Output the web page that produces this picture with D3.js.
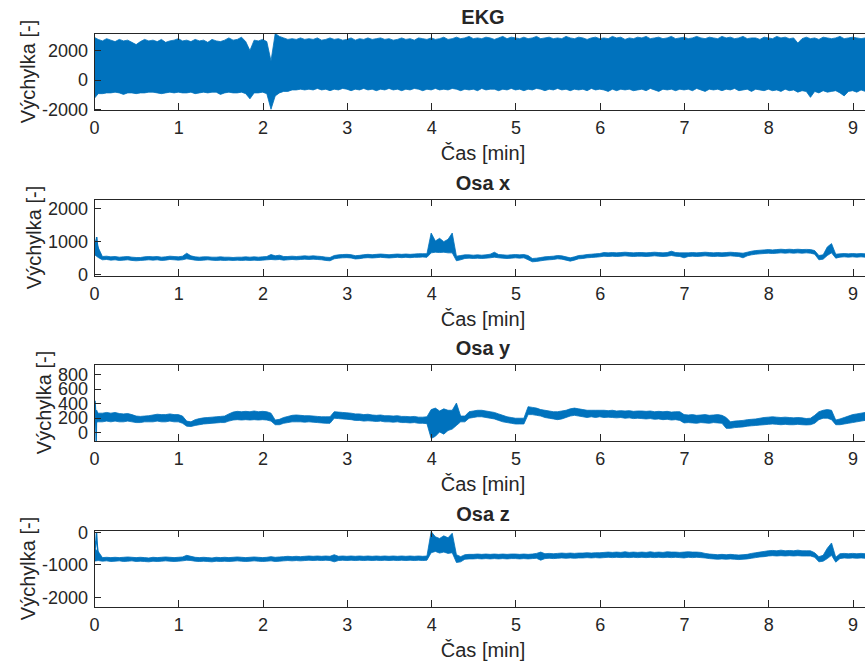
<!DOCTYPE html>
<html>
<head>
<meta charset="utf-8">
<script src="https://cdn.jsdelivr.net/npm/d3@7"></script>
<style>
  body { margin: 0; background: #fff; }
  text { font-family: "Liberation Sans", Arial, Helvetica, sans-serif; fill: #262626; }
</style>
</head>
<body>
<svg id="chart" width="865" height="663"></svg>
<script>
// samples every 0.05 min, 0 .. 9.25
const dt = 0.05;
const xTicks = [0, 1, 2, 3, 4, 5, 6, 7, 8, 9];

// EKG envelope (upper / lower edge of the dense trace)
const ekgHi = [
  2850,2700,2600,2750,2650,2550,2700,2600,2650,2500,
  2350,2550,2700,2600,2650,2550,2700,2500,2600,2650,
  2750,2600,2650,2550,2700,2600,2650,2500,2700,2600,
  2550,2650,2800,2650,2700,2850,2550,1950,2650,2600,
  2700,2550,1250,3100,2900,2800,2700,2750,2700,2800,
  2700,2750,2700,2800,2650,2700,2800,2700,2750,2650,
  2700,2800,2650,2750,2700,2800,2700,2750,2800,2700,
  2750,2650,2700,2800,2700,2750,2650,2800,2750,2700,
  2800,2700,2750,2850,2700,2750,2850,2750,2800,2900,
  2750,2800,2750,2850,2800,2700,2800,2900,2750,2850,
  2800,2750,2850,2750,2800,2900,2750,2800,2850,2750,
  2800,2750,2900,2800,2750,2850,2800,2700,2800,2850,
  2750,2800,2750,2900,2800,2850,2700,2800,2750,2850,
  2800,2900,2750,2800,2850,2750,2800,2900,2750,2800,
  2850,2750,2800,2900,2800,2750,2850,2800,2750,2900,
  2800,2850,2750,2800,2900,2750,2800,2800,2700,2850,
  2800,2750,2900,2800,2850,2750,2800,2450,2750,2850,
  2750,2800,2700,2850,2800,2750,2800,2900,2750,2800,
  2850,2800,2750,2800,2850,2800
];
const ekgLo = [
  -1300,-950,-950,-900,-900,-850,-900,-1000,-900,-900,
  -950,-900,-900,-850,-850,-900,-950,-900,-850,-900,
  -850,-900,-900,-850,-950,-900,-850,-900,-850,-850,
  -1000,-900,-850,-900,-900,-850,-950,-1300,-900,-900,
  -850,-950,-2000,-1100,-900,-800,-800,-700,-700,-650,
  -700,-650,-700,-600,-700,-650,-750,-650,-700,-600,
  -650,-750,-650,-700,-600,-700,-650,-750,-650,-700,
  -600,-700,-650,-750,-650,-700,-600,-650,-750,-650,
  -700,-600,-700,-650,-700,-600,-650,-750,-650,-700,
  -650,-750,-600,-700,-650,-650,-750,-650,-700,-600,
  -700,-650,-750,-650,-700,-600,-650,-750,-650,-700,
  -600,-700,-650,-750,-650,-700,-650,-750,-600,-700,
  -650,-700,-800,-650,-750,-650,-700,-650,-750,-700,
  -650,-750,-600,-700,-800,-650,-700,-650,-750,-650,
  -700,-650,-750,-600,-700,-800,-650,-700,-650,-750,
  -650,-700,-600,-750,-700,-650,-800,-650,-700,-750,
  -650,-750,-700,-800,-650,-750,-700,-850,-750,-800,
  -1200,-800,-900,-750,-850,-800,-750,-900,-1100,-800,
  -750,-850,-700,-800,-750,-700
];

// Osa x
const osaXHi = [
  1100,800,530,540,520,530,510,520,530,510,
  500,500,520,530,520,530,510,520,540,530,
  520,540,630,550,520,510,520,520,510,510,
  520,510,510,500,510,510,520,510,520,510,
  520,530,590,550,570,530,530,540,530,540,
  550,540,550,540,530,510,500,560,580,590,
  595,585,555,565,585,595,585,595,605,595,
  585,595,605,595,605,595,605,615,615,615,
  1240,1000,1080,980,1050,1240,540,560,580,580,
  570,580,570,580,600,660,590,580,570,580,
  590,580,590,560,470,480,500,520,530,540,
  560,550,520,490,520,560,570,590,600,610,
  620,650,640,650,640,650,660,650,640,650,
  650,640,650,660,650,640,650,690,650,640,
  640,640,650,640,650,660,650,640,650,640,
  650,660,650,640,630,660,690,710,720,730,
  740,730,740,750,740,750,740,750,740,745,
  740,710,560,580,820,920,600,610,620,610,
  620,610,620,610,620,620
];
const osaXLo = [
  600,500,430,440,420,430,410,420,430,410,
  400,410,420,430,420,430,410,420,440,430,
  420,430,460,440,420,410,420,430,420,410,
  420,410,420,410,420,410,420,410,420,410,
  420,430,440,430,440,420,430,440,430,440,
  450,440,450,440,430,410,400,460,480,490,
  495,485,455,465,485,495,485,495,505,495,
  485,495,505,495,505,495,505,505,515,505,
  640,660,650,660,640,640,400,430,470,480,
  470,480,470,480,490,510,490,480,470,480,
  490,480,490,430,370,380,400,420,430,440,
  460,450,420,390,420,460,470,490,500,510,
  520,540,530,540,530,540,550,540,530,540,
  540,530,540,550,540,530,540,560,540,530,
  490,530,540,530,540,550,540,530,540,530,
  540,550,540,530,490,550,580,600,610,620,
  630,620,630,640,630,640,630,640,630,640,
  630,600,430,450,560,640,480,510,520,510,
  520,510,520,510,520,520
];
const osaXStartT = [0, 0.001, 0.004, 0.012, 0.022, 0.032, 0.04, 0.05, 0.06, 0.07, 0.08, 0.1];
const osaXStartV = [-60, 2270, 700, 650, 850, 1120, 900, 750, 620, 520, 480, 470];

// Osa y
const osaYHi = [
  330,260,260,270,260,270,255,250,255,240,
  220,215,220,225,235,245,240,240,250,240,
  240,220,150,140,170,185,195,200,205,210,
  215,220,250,275,285,280,285,280,290,280,
  285,280,260,165,175,200,215,230,235,230,
  225,225,220,215,210,210,210,280,275,270,
  265,260,250,250,240,245,235,230,235,225,
  225,220,225,215,215,210,215,205,205,210,
  310,330,290,320,300,300,400,220,220,280,
  290,300,300,290,280,270,250,230,210,200,
  190,190,190,350,340,330,310,300,290,280,
  280,290,300,320,330,320,310,300,300,300,
  300,300,295,300,290,295,290,295,285,290,
  290,285,290,280,285,280,285,275,280,280,
  240,235,240,230,235,240,230,235,240,230,
  200,140,150,155,160,170,175,180,190,200,
  205,210,205,200,205,200,195,200,195,186,
  190,230,280,300,310,300,165,180,200,220,
  240,250,260,270,280,280
];
const osaYLo = [
  130,140,140,150,140,150,140,140,150,140,
  130,130,140,140,140,150,140,140,150,140,
  140,120,80,75,90,100,110,115,120,125,
  130,130,150,165,170,165,170,165,170,165,
  170,165,150,100,100,120,130,140,140,140,
  135,140,135,130,125,120,120,190,185,180,
  175,170,160,160,150,155,150,145,150,140,
  140,135,140,130,130,125,130,120,120,115,
  -90,-60,0,-30,20,40,90,140,140,190,
  200,210,210,200,190,180,160,140,130,120,
  110,110,110,240,240,230,220,200,190,180,
  170,180,200,220,230,220,210,200,210,200,
  210,200,205,200,195,200,190,195,185,190,
  185,180,185,175,180,170,175,165,170,160,
  125,130,125,120,130,125,120,130,125,120,
  50,50,60,65,70,80,85,90,95,100,
  105,110,105,100,105,100,100,105,100,97,
  100,120,170,190,190,170,100,100,110,120,
  130,140,150,160,165,165
];
const osaYStartT = [0, 0.002, 0.006, 0.012, 0.02, 0.026, 0.03, 0.036, 0.045, 0.06, 0.08];
const osaYStartV = [940, -125, 350, 430, 250, -125, 300, 260, 230, 210, 200];

// Osa z
const osaZHi = [
  -500,-600,-790,-780,-790,-780,-790,-780,-770,-780,
  -790,-780,-790,-800,-780,-790,-780,-770,-780,-790,
  -780,-770,-720,-750,-780,-790,-780,-790,-800,-780,
  -790,-780,-790,-780,-770,-780,-790,-780,-770,-780,
  -790,-780,-760,-780,-770,-760,-750,-760,-750,-760,
  -750,-740,-750,-740,-750,-740,-750,-700,-750,-740,
  -750,-740,-750,-740,-750,-740,-750,-740,-750,-740,
  -750,-740,-750,-740,-750,-740,-750,-740,-750,-740,
  10,-150,-200,-120,-180,-40,-700,-760,-700,-690,
  -690,-680,-690,-680,-690,-680,-690,-680,-690,-680,
  -680,-690,-680,-690,-680,-660,-620,-670,-660,-670,
  -660,-650,-660,-650,-660,-650,-650,-640,-650,-640,
  -640,-630,-620,-630,-620,-630,-610,-630,-620,-630,
  -620,-630,-610,-630,-620,-630,-610,-620,-620,-630,
  -620,-610,-620,-620,-630,-660,-680,-690,-700,-690,
  -700,-690,-700,-710,-700,-690,-660,-640,-620,-600,
  -580,-570,-580,-560,-580,-570,-580,-560,-580,-580,
  -580,-640,-760,-720,-500,-340,-780,-670,-660,-670,
  -660,-670,-660,-670,-660,-660
];
const osaZLo = [
  -900,-880,-900,-890,-910,-900,-890,-910,-900,-890,
  -910,-900,-910,-920,-900,-910,-900,-890,-900,-910,
  -900,-890,-870,-880,-900,-910,-900,-910,-920,-900,
  -910,-900,-910,-900,-890,-900,-910,-900,-890,-900,
  -910,-900,-890,-910,-900,-890,-880,-890,-880,-890,
  -880,-870,-880,-870,-880,-870,-880,-920,-880,-870,
  -880,-870,-880,-870,-880,-870,-880,-870,-880,-870,
  -880,-870,-880,-870,-880,-870,-880,-870,-880,-870,
  -640,-600,-650,-620,-660,-640,-940,-920,-840,-830,
  -830,-820,-830,-820,-830,-820,-830,-820,-830,-820,
  -820,-830,-820,-830,-820,-810,-870,-820,-810,-820,
  -810,-800,-810,-800,-810,-800,-800,-790,-800,-790,
  -800,-790,-780,-790,-780,-790,-780,-790,-780,-790,
  -780,-790,-780,-790,-780,-790,-780,-790,-780,-790,
  -800,-780,-790,-780,-790,-800,-820,-830,-840,-830,
  -840,-830,-840,-850,-840,-830,-810,-790,-770,-760,
  -740,-730,-740,-730,-740,-730,-740,-730,-740,-740,
  -740,-780,-920,-900,-820,-720,-930,-820,-800,-810,
  -800,-810,-800,-810,-800,-800
];
const osaZStartT = [0, 0.003, 0.012, 0.022, 0.03, 0.04, 0.055, 0.08];
const osaZStartV = [-2310, -600, -550, -300, -30, -450, -800, -830];

const panels = [
  { title: "EKG",   yDomain: [-2050, 3130], yTicks: [-2000, 0, 2000],           hi: ekgHi,  lo: ekgLo },
  { title: "Osa x", yDomain: [-60, 2270],   yTicks: [0, 1000, 2000],            hi: osaXHi, lo: osaXLo, st: osaXStartT, sv: osaXStartV },
  { title: "Osa y", yDomain: [-125, 940],   yTicks: [0, 200, 400, 600, 800],    hi: osaYHi, lo: osaYLo, st: osaYStartT, sv: osaYStartV },
  { title: "Osa z", yDomain: [-2310, 60],   yTicks: [-2000, -1000, 0],          hi: osaZHi, lo: osaZLo, st: osaZStartT, sv: osaZStartV },
];

const left = 94, right = 872, plotH = 77;
const tops = [33, 199, 364, 530];
const blue = "#0072BD", axisColor = "#262626";
const tickFont = 18, labelFont = 20;

const svg = d3.select("#chart");
const x = d3.scaleLinear().domain([0, 9.23]).range([left, right]);

panels.forEach((p, k) => {
  const top = tops[k], bottom = top + plotH;
  const y = d3.scaleLinear().domain(p.yDomain).range([bottom, top]);

  svg.append("clipPath").attr("id", "clip" + k)
    .append("rect").attr("x", left).attr("y", top)
    .attr("width", right - left).attr("height", plotH);

  const g = svg.append("g").attr("clip-path", `url(#clip${k})`);

  const band = d3.area()
    .x((d, i) => x(i * dt))
    .y0((d) => y(d[0]))
    .y1((d) => y(d[1]));

  g.append("path")
    .datum(p.lo.map((v, i) => [v, p.hi[i]]))
    .attr("d", band)
    .attr("fill", blue)
    .attr("stroke", blue)
    .attr("stroke-width", 0.8)
    .attr("stroke-linejoin", "round");

  if (p.st) {
    const line = d3.line().x((d) => x(d[0])).y((d) => y(d[1]));
    g.append("path")
      .datum(p.st.map((t, i) => [t, p.sv[i]]))
      .attr("d", line)
      .attr("fill", "none")
      .attr("stroke", blue)
      .attr("stroke-width", 1.5);
  }

  // axes (ticks pointing inward, box on)
  const xb = svg.append("g").attr("transform", `translate(0,${bottom})`)
    .call(d3.axisBottom(x).tickValues(xTicks).tickSizeInner(-7).tickSizeOuter(0).tickFormat((d) => String(d)));
  xb.selectAll("text").attr("y", 23.5).attr("dy", 0).style("font-size", tickFont + "px");

  svg.append("g").attr("transform", `translate(0,${top})`)
    .call(d3.axisTop(x).tickValues(xTicks).tickSizeInner(-7).tickSizeOuter(0).tickFormat(""));

  const yl = svg.append("g").attr("transform", `translate(${left},0)`)
    .call(d3.axisLeft(y).tickValues(p.yTicks).tickSizeInner(-7).tickSizeOuter(0).tickPadding(6).tickFormat((d) => String(d)));
  yl.selectAll("text").attr("dy", "0.35em").style("font-size", tickFont + "px");

  svg.selectAll(".domain, .tick line")
    .attr("stroke", axisColor)
    .attr("stroke-width", 1)
    .attr("shape-rendering", "crispEdges");

  svg.append("text")
    .attr("x", (left + right) / 2).attr("y", top - 9)
    .attr("text-anchor", "middle")
    .style("font-size", labelFont + "px").style("font-weight", "bold")
    .text(p.title);

  svg.append("text")
    .attr("x", (left + right) / 2).attr("y", bottom + 50)
    .attr("text-anchor", "middle")
    .style("font-size", labelFont + "px")
    .text("Čas [min]");

  let minX = 0;
  yl.selectAll("text").each(function () {
    const b = this.getBBox();
    minX = Math.min(minX, b.x);
  });
  const lx = left + minX - 6.5, ly = (top + bottom) / 2;
  svg.append("text")
    .attr("transform", `translate(${lx},${ly}) rotate(-90)`)
    .attr("text-anchor", "middle")
    .style("font-size", labelFont + "px")
    .text("Výchylka [-]");
});
</script>
</body>
</html>
